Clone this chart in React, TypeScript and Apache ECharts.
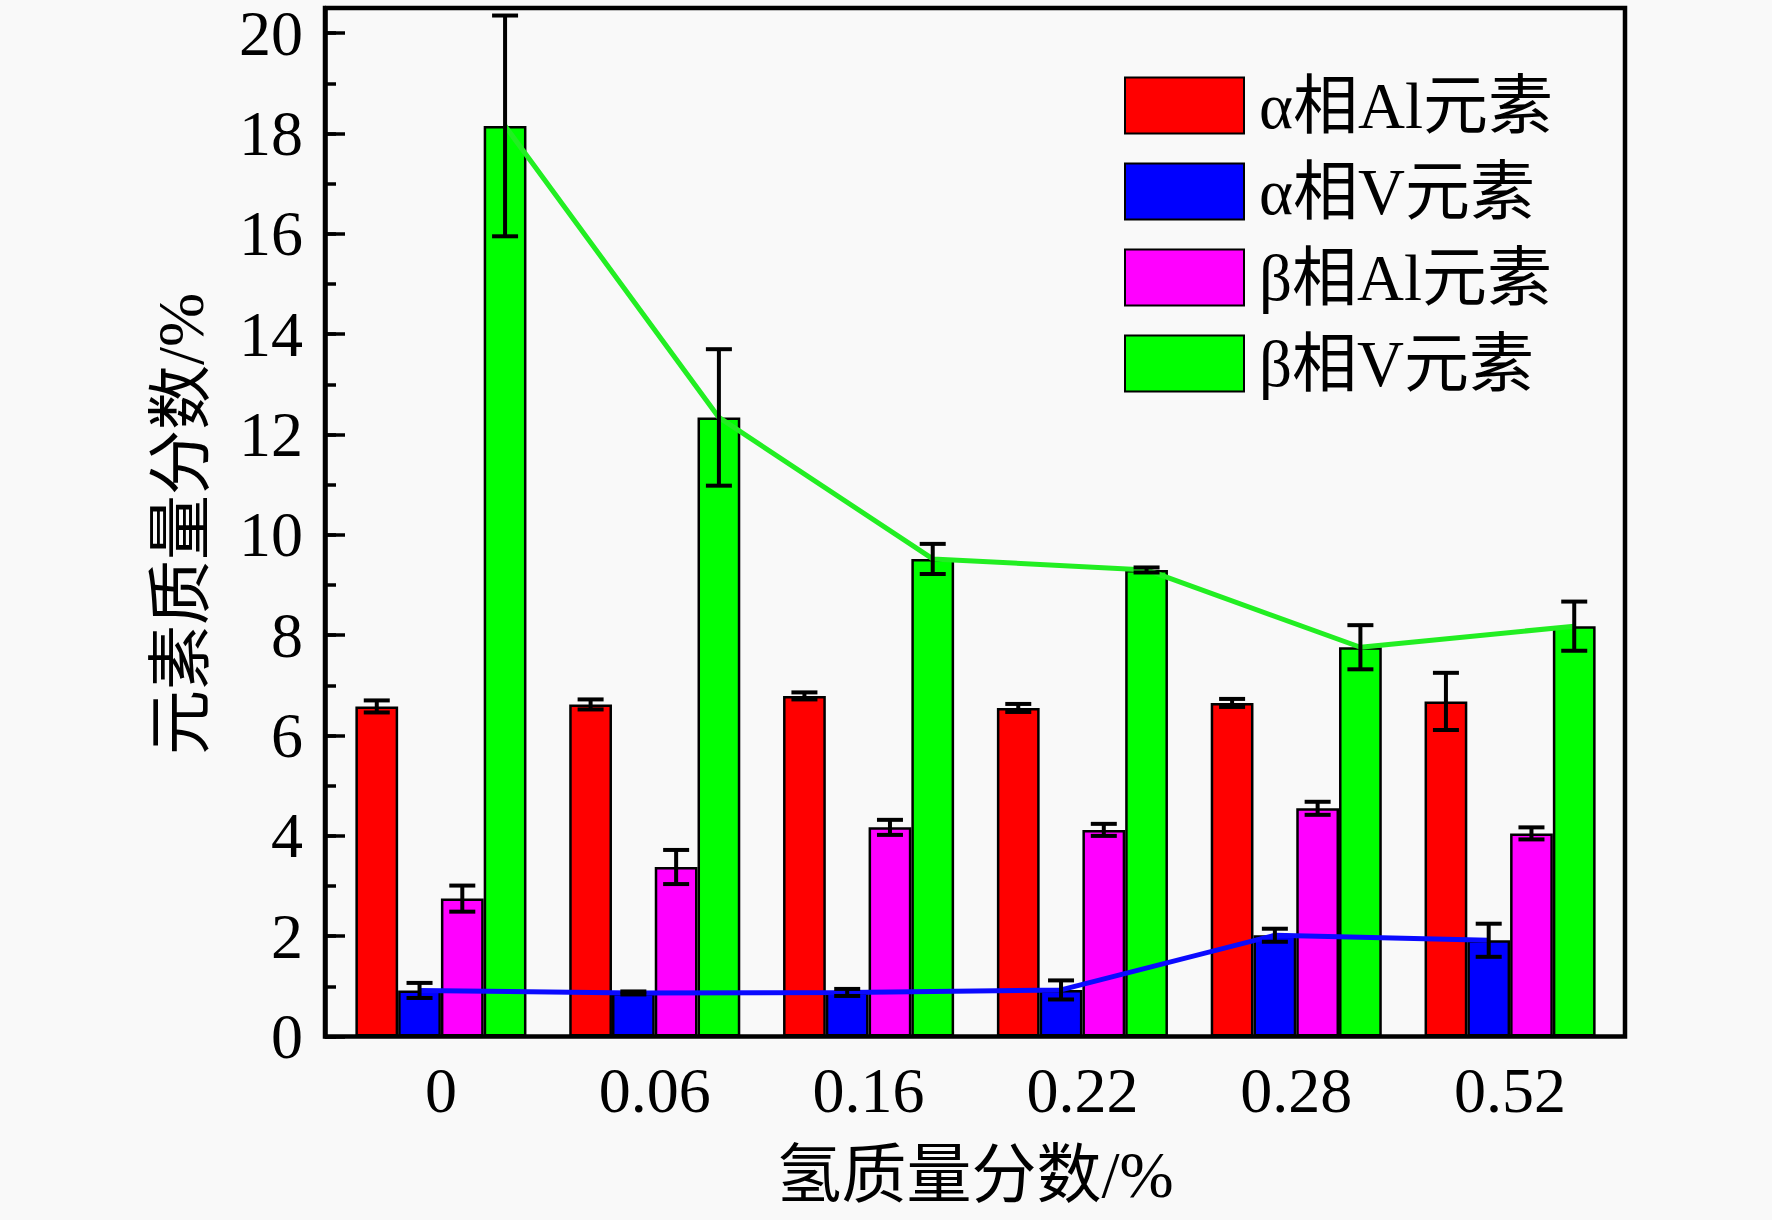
import React, { useEffect, useRef } from "react";
import * as echarts from "echarts";

const categories = ["0", "0.06", "0.16", "0.22", "0.28", "0.52"];
const seriesNames = ["α相Al元素", "α相V元素", "β相Al元素", "β相V元素"];
const alphaAl = [6.58, 6.62, 6.79, 6.55, 6.65, 6.68];
const alphaAlErr = [0.12, 0.1, 0.07, 0.08, 0.08, 0.57];
const alphaV = [0.92, 0.87, 0.88, 0.93, 2.02, 1.92];
const alphaVErr = [0.15, 0.03, 0.07, 0.19, 0.13, 0.33];
const betaAl = [2.75, 3.38, 4.17, 4.12, 4.55, 4.05];
const betaAlErr = [0.26, 0.34, 0.15, 0.12, 0.13, 0.12];
const betaV = [18.15, 12.34, 9.52, 9.3, 7.76, 8.18];
const betaVErr = [2.2, 1.36, 0.3, 0.05, 0.44, 0.49];
const yTicks = [0, 2, 4, 6, 8, 10, 12, 14, 16, 18, 20];

const FONT = "'Liberation Serif', 'Noto Sans CJK SC', serif";
const colors = ["#ff0000", "#0000ff", "#ff00ff", "#00ff00"];
const lineColors = { alphaV: "#0a0aff", betaV: "#22ee22" };
const BAR_GAP_RATIO = 0.2;

export default function App() {
  const ref = useRef<HTMLDivElement>(null);
  useEffect(() => {
    document.body.style.margin = "0";
    document.body.style.background = "#f9f9f9";
    const chart = echarts.init(ref.current!, null, { renderer: "svg" });
    const values = [alphaAl, alphaV, betaAl, betaV];
    const errs = [alphaAlErr, alphaVErr, betaAlErr, betaVErr];
    const nSeries = values.length;
    const barFrac = (1 - BAR_GAP_RATIO) / nSeries;
    const offsetOf = (j: number) => (j - (nSeries - 1) / 2) * barFrac;

    const barSeries = values.map((vals, j) => ({
      name: seriesNames[j],
      type: "bar",
      xAxisIndex: 1,
      yAxisIndex: 1,
      data: vals,
      barGap: "0%",
      barCategoryGap: "20%",
      itemStyle: { color: colors[j], borderColor: "#000", borderWidth: 2.5 },
      z: 2,
    }));

    const errSeries = values.map((vals, j) => ({
      type: "custom",
      xAxisIndex: 1,
      yAxisIndex: 1,
      z: 10,
      data: vals.map((v, i) => [i, v, errs[j][i]]),
      renderItem: (params: any, api: any) => {
        const i = api.value(0);
        const v = api.value(1);
        const e = api.value(2);
        const band = api.size([1, 0])[0];
        const off = offsetOf(j) * band;
        const top = api.coord([i, v + e]);
        const bot = api.coord([i, v - e]);
        const x = top[0] + off;
        const cap = 13;
        const st = { stroke: "#000", lineWidth: 4 };
        return {
          type: "group",
          children: [
            { type: "line", shape: { x1: x, y1: top[1], x2: x, y2: bot[1] }, style: st },
            { type: "line", shape: { x1: x - cap, y1: top[1], x2: x + cap, y2: top[1] }, style: st },
            { type: "line", shape: { x1: x - cap, y1: bot[1], x2: x + cap, y2: bot[1] }, style: st },
          ],
        };
      },
    }));

    const lineSeries = [
      {
        type: "line",
        xAxisIndex: 2,
        yAxisIndex: 1,
        data: alphaV.map((v, i) => [i + offsetOf(1), v]),
        symbol: "none",
        lineStyle: { color: lineColors.alphaV, width: 5 },
        z: 5,
      },
      {
        type: "line",
        xAxisIndex: 2,
        yAxisIndex: 1,
        data: betaV.map((v, i) => [i + offsetOf(3), v]),
        symbol: "none",
        lineStyle: { color: lineColors.betaV, width: 5 },
        z: 5,
      },
    ];

    const top = 8;
    const height = 1028.6;
    const yMax = 20.5;

    chart.setOption({
      animation: false,
      backgroundColor: "#f9f9f9",
      textStyle: { fontFamily: FONT },
      grid: [
        { left: 325, top, width: 1300, height, show: true, borderColor: "#000", borderWidth: 4.5, backgroundColor: "transparent" },
        { left: 334, top, width: 1283, height },
      ],
      legend: {
        data: seriesNames,
        orient: "vertical",
        left: 1124,
        top: 73,
        padding: 0,
        icon: "rect",
        itemWidth: 119,
        itemHeight: 56,
        itemGap: 21,
        textStyle: { fontSize: 65, fontFamily: FONT, color: "#000", padding: [0, 0, 0, 10], lineHeight: 56 },
      },
      xAxis: [
        { gridIndex: 0, type: "category", data: categories, axisLine: { show: false }, axisTick: { show: false }, axisLabel: { show: false }, splitLine: { show: false } },
        {
          gridIndex: 1,
          type: "category",
          data: categories,
          axisLine: { show: false },
          axisTick: { show: false },
          splitLine: { show: false },
          axisLabel: { fontSize: 64, fontFamily: FONT, color: "#000", margin: 22 },
        },
        { gridIndex: 1, type: "value", min: -0.5, max: 5.5, show: false, splitLine: { show: false } },
      ],
      yAxis: [
        {
          gridIndex: 0,
          type: "value",
          min: 0,
          max: yMax,
          interval: 2,
          axisLine: { show: true, lineStyle: { color: "#000", width: 4.5 } },
          axisTick: { show: true, inside: true, length: 20, lineStyle: { color: "#000", width: 3.5 } },
          splitLine: { show: false },
          axisLabel: {
            fontSize: 64,
            lineHeight: 60,
            fontFamily: FONT,
            color: "#000",
            margin: 22,
            showMaxLabel: false,
            formatter: (v: number) => (yTicks.includes(v) ? String(v) : ""),
          },
        },
        { gridIndex: 1, type: "value", min: 0, max: yMax, show: false, splitLine: { show: false } },
        {
          gridIndex: 0,
          type: "value",
          min: 0,
          max: yMax,
          interval: 1,
          position: "left",
          axisLine: { show: false },
          axisTick: { show: true, inside: true, length: 11, lineStyle: { color: "#000", width: 3.5 } },
          axisLabel: { show: false },
          splitLine: { show: false },
        },
      ],
      graphic: [
        {
          type: "text",
          x: 181,
          y: 524,
          rotation: Math.PI / 2,
          style: { text: "元素质量分数/%", fontSize: 65, fontFamily: FONT, fill: "#000", textAlign: "center", textVerticalAlign: "middle" },
        },
        {
          type: "text",
          x: 975,
          y: 1175,
          style: { text: "氢质量分数/%", fontSize: 65, fontFamily: FONT, fill: "#000", textAlign: "center", textVerticalAlign: "middle" },
        },
      ],
      series: [...barSeries, ...lineSeries, ...errSeries],
    });
    return () => chart.dispose();
  }, []);
  return <div ref={ref} style={{ position: "fixed", left: 0, top: 0, width: 1772, height: 1220 }} />;
}
